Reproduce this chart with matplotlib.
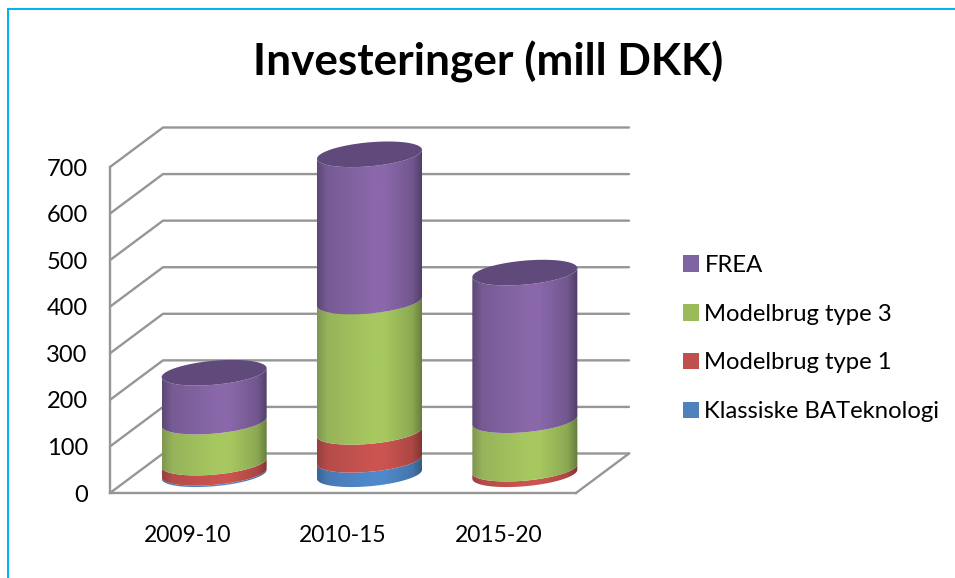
import numpy as np
import matplotlib
matplotlib.use("Agg")
import matplotlib.pyplot as plt
from matplotlib.colors import LinearSegmentedColormap, to_rgb
from matplotlib.lines import Line2D
from matplotlib.patches import Patch, Polygon

categories = ["2009-10", "2010-15", "2015-20"]
klassiske = [3, 31, 0]
type1 = [22, 60, 12]
type3 = [88, 280, 104]
frea = [105, 316, 317]
series_names = ["Klassiske BATeknologi", "Modelbrug type 1", "Modelbrug type 3", "FREA"]
y_ticks = [0, 100, 200, 300, 400, 500, 600, 700]

W, H = 955, 578
AX_L, AX_R, AX_T, AX_B = 110, 576, 167, 493
GRID = "#969696"
FONT = "Lato"

# legend colour, shaded cylinder colours (left edge, middle, right edge)
COLORS = ["#4F81BD", "#C0504D", "#9BBB59", "#8064A2"]
SHADES = [
    ("#3A6595", "#5089CB", "#34597F"),
    ("#96403E", "#CB5450", "#7D3432"),
    ("#7E9650", "#A7C860", "#637A3C"),
    ("#5B4875", "#8A68AA", "#4E3D66"),
]
TOP_COLOR = "#604A7B"

plt.rcParams["font.family"] = [FONT, "DejaVu Sans"]

fig = plt.figure(figsize=(W / 100, H / 100), dpi=100)
ax = fig.add_axes([AX_L / W, 1 - AX_B / H, (AX_R - AX_L) / W, (AX_B - AX_T) / H])
ax.set_xlim(0, len(categories))
ax.set_ylim(0, 700)

# pixel sizes of the fake 3D, turned into data units
ux = len(categories) / (AX_R - AX_L)
uy = 700 / (AX_B - AX_T)
depth_x = 53 * ux
depth_y = 39.5 * uy
floor_y = depth_y / 2 - 1 * uy
half_w = 52.5 * ux
ell_b = 12 * uy
ell_s = 4.5 * uy

for v in y_ticks:
    ax.plot([0, depth_x, 3 + depth_x], [v, v + depth_y, v + depth_y],
            color=GRID, lw=1.7, clip_on=False, zorder=1, solid_capstyle="round")
ax.plot([3, 3 + depth_x], [0, depth_y], color=GRID, lw=1.7, clip_on=False, zorder=1)


def arc(cx, cy, t):
    return np.column_stack([cx + half_w * np.cos(t), cy + ell_s * np.cos(t) - ell_b * np.sin(t)])


def shade_map(left, mid, right):
    l, m, r = [np.array(to_rgb(c)) for c in (left, mid, right)]
    return LinearSegmentedColormap.from_list("c", [
        (0, l), (0.1, (l + m) / 2 + (m - l) * 0.1), (0.52, m), (0.64, m),
        (0.9, (m + r) / 2 + (m - r) * 0.1), (1, r)])


front = np.linspace(np.pi, 0, 80)
cum = np.zeros(len(categories))
for values, shade in zip([klassiske, type1, type3, frea], SHADES):
    cmap = shade_map(*shade)
    for i, v in enumerate(values):
        if v == 0:
            continue
        cx = i + 0.5 + depth_x / 2
        low = cum[i] + floor_y
        high = low + v
        pts = np.vstack([arc(cx, low, front), arc(cx, high, front)[::-1]])
        poly = Polygon(pts, closed=True, transform=ax.transData, fc="none", ec="none")
        ax.add_patch(poly)
        ext_low = low - ell_b - ell_s
        ext_high = high + ell_b + ell_s
        im = ax.imshow(np.linspace(0, 1, 256)[None, :], cmap=cmap, aspect="auto",
                       extent=[cx - half_w, cx + half_w, ext_low, ext_high],
                       interpolation="bilinear", zorder=3)
        im.set_clip_path(poly)
        im.set_clip_box(fig.bbox)
    cum += np.array(values)

for i, total in enumerate(cum):
    cx = i + 0.5 + depth_x / 2
    top = arc(cx, total + floor_y, np.linspace(0, 2 * np.pi, 120))
    ax.add_patch(Polygon(top, closed=True, fc=TOP_COLOR, ec="none", zorder=4, clip_on=False))

ax.set_xlim(0, len(categories))
ax.set_ylim(0, 700)

for side in ["top", "right"]:
    ax.spines[side].set_visible(False)
for side in ["left", "bottom"]:
    ax.spines[side].set_color(GRID)
    ax.spines[side].set_linewidth(1.7)
ax.set_xticks(np.arange(len(categories)) + 0.5, categories)
ax.set_yticks(y_ticks)
ax.tick_params(axis="x", length=0, pad=23, labelsize=16.5)
ax.tick_params(axis="y", length=0, pad=16, labelsize=17)

fig.text(488 / W, 1 - 62 / H, "Investeringer (mill DKK)", ha="center", va="center",
         fontsize=31.8, fontweight="bold", color="black")

handles = [Patch(fc=c, ec="none") for c in COLORS[::-1]]
fig.legend(handles, series_names[::-1], loc="center left",
           bbox_to_anchor=(661 / W, 1 - 338.5 / H), frameon=False, fontsize=17.2,
           handlelength=0.7, handleheight=0.7, handletextpad=0.22, labelspacing=1.17)

# blue frame of the slide object
fig.add_artist(Line2D([8 / W, 8 / W], [0, 1 - 9 / H], color="#00B0F0", lw=1.4))
fig.add_artist(Line2D([8 / W, 1], [1 - 9 / H, 1 - 9 / H], color="#00B0F0", lw=1.4))

fig.savefig("out.png", dpi=100)
